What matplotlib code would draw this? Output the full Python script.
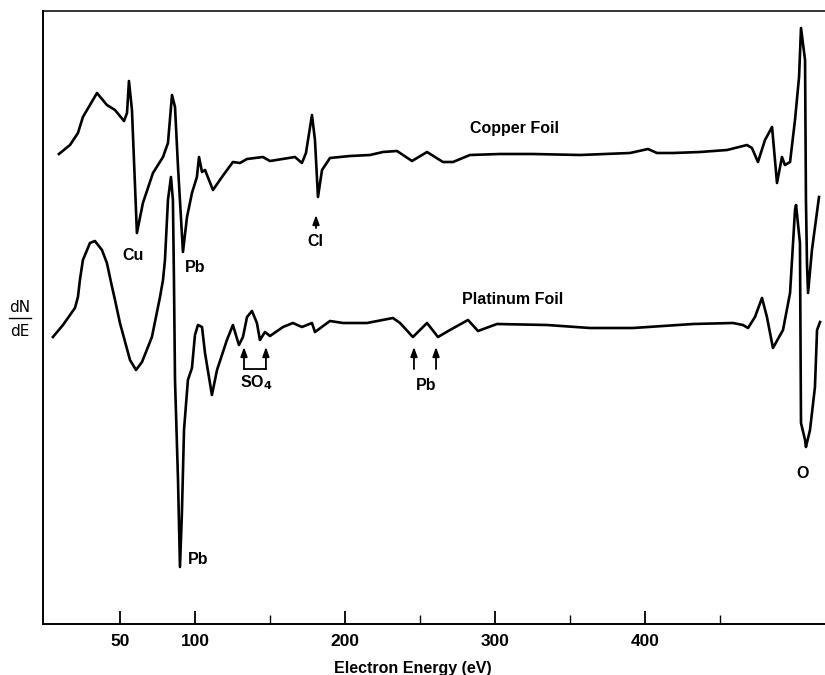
import numpy as np
import matplotlib
matplotlib.use('Agg')
import matplotlib.pyplot as plt

plt.rcParams['font.family'] = ['Liberation Sans', 'DejaVu Sans']

# 铜箔谱线 (能量 eV, dN/dE 任意单位)
cu_energy = [9.3, 16.7, 22, 25.3, 30, 34.7, 41.3, 46.7, 52.7, 54.7, 56, 58, 61.3, 65.3, 72, 78.7,
             82, 84.7, 86.7, 88.7, 92, 94.7, 98, 101.3, 102.7, 104.7, 106.7, 112, 118, 125.3,
             130, 134.7, 145.3, 150, 166.7, 171.3, 174, 178, 180, 182, 184.7, 190, 203.3,
             216.7, 225.3, 234.7, 238.7, 244.7, 254.7, 265.3, 272, 283.3, 303.3, 325.3,
             356.7, 390, 402, 408, 418.7, 436.7, 454.7, 468, 471.3, 475.3, 480, 484.7,
             488, 491.3, 493.3, 496.7, 500, 502.7, 504, 506.7,
             507.3, 508, 508.7, 511.3, 516]
cu_signal = [470, 479, 491, 507, 519, 531, 519, 514, 503, 511, 543, 514, 391, 421, 451, 467,
             481, 529, 517, 457, 372, 407, 431, 447, 467, 452, 454, 434, 447, 462,
             461, 465, 467, 463, 467, 461, 471, 509, 484, 427, 454, 466, 468,
             469, 472, 473, 469, 463, 472, 462, 462, 469, 470, 470,
             469, 471, 475, 471, 471, 472, 474, 479, 476, 462, 484, 497,
             441, 467, 459, 462, 504, 547, 596, 564,
             424, 360, 331, 374, 427]

# 铂箔谱线
pt_energy = [5.3, 12, 20, 22, 23.3, 25.3, 30, 33.3, 38, 41.3, 44, 46.7, 50, 56.7, 60.7, 64.7,
             71.3, 76.7, 78.7, 80, 82, 84, 85.3, 86, 86.7, 88.7, 90, 91.3, 92.7, 95.3, 98,
             100, 102, 104.7, 106.7, 111.3, 114.7, 121.3, 125.3, 129.3, 132, 134.7, 138,
             141.3, 143.3, 146.7, 150, 158.7, 165.3, 171.3, 178, 180, 190, 198.7, 214.7,
             232, 236.7, 245.3, 254.7, 262, 270, 282, 288.7, 301.3, 334.7, 363.3, 392,
             432, 458.7, 465.3, 468.7, 473.3, 478, 481.3, 485.3, 492, 496.7, 498.7, 500,
             500.7, 503.3, 504, 506.7, 507.3, 510, 513.3, 514.7, 516.7]
pt_signal = [287, 299, 316, 327, 344, 364, 381, 383, 374, 361, 342, 324, 301, 264, 254, 262,
             287, 327, 344, 364, 424, 447, 424, 344, 244, 144, 57, 111, 194, 244, 256,
             289, 299, 297, 271, 229, 254, 284, 299, 279, 287, 307, 313,
             301, 284, 292, 288, 297, 301, 297, 301, 292, 303, 301, 301,
             306, 301, 287, 301, 287, 294, 304, 293, 300, 299, 296, 296,
             300, 301, 299, 296, 307, 326, 307, 276, 294, 331, 381, 414,
             419, 381, 201, 184, 177, 194, 237, 294, 302]

fig = plt.figure(figsize=(8.25, 6.75), dpi=100)
ax = fig.add_axes([43 / 825, 1 - 624 / 675, 782 / 825, 613 / 675])

ax.plot(cu_energy, cu_signal, color='black', lw=1.9, solid_joinstyle='round')
ax.plot(pt_energy, pt_signal, color='black', lw=1.9, solid_joinstyle='round')

ax.set_xlim(-1.3, 520)
ax.set_ylim(0, 613)

ax.spines['right'].set_visible(False)
for s in ['left', 'bottom']:
    ax.spines[s].set_linewidth(1.4)
ax.spines['top'].set_linewidth(1.1)

ax.set_xticks([50, 100, 200, 300, 400])
ax.set_xticks([150, 250, 350, 450], minor=True)
ax.set_yticks([])
ax.tick_params(axis='x', which='major', direction='in', length=9.5, width=1.3,
               pad=7, labelsize=12.5)
ax.tick_params(axis='x', which='minor', direction='in', length=6.5, width=1.0)
for lab in ax.get_xticklabels():
    lab.set_fontweight('bold')

fs = 11.5
kw = dict(ha='center', va='center', fontsize=fs, fontweight='bold')
ax.text(313.3, 496, 'Copper Foil', **kw)
ax.text(312, 324, 'Platinum Foil', **kw)
ax.text(58.7, 369, 'Cu', **kw)
ax.text(100, 356, 'Pb', **kw)
ax.text(180, 383, 'Cl', **kw)
ax.text(140.7, 241, 'SO$_\\mathbf{4}$', **kw)
ax.text(254, 239, 'Pb', **kw)
ax.text(102, 64, 'Pb', **kw)
ax.text(505.3, 151, 'O', **kw)

# 箭头
arr = dict(arrowstyle='-|>,head_length=0.55,head_width=0.2', color='black', lw=1.3,
           shrinkA=0, shrinkB=0)
ax.annotate('', xy=(180.7, 409), xytext=(180.7, 396), arrowprops=arr)
for e in [132.7, 147.3, 246, 260.7]:
    ax.annotate('', xy=(e, 277), xytext=(e, 255), arrowprops=arr)
ax.plot([132.7, 147.3], [255, 255], color='black', lw=1.3)

# 纵轴标签 dN/dE
fig.text(20 / 825, 1 - 307 / 675, 'dN', ha='center', va='center', fontsize=11,
         family='DejaVu Sans')
fig.text(20 / 825, 1 - 331 / 675, 'dE', ha='center', va='center', fontsize=11,
         family='DejaVu Sans')
fig.add_artist(plt.Line2D([9 / 825, 31 / 825], [1 - 318 / 675, 1 - 318 / 675],
                          color='black', lw=1.0))

fig.text(413 / 825, 1 - 669 / 675, 'Electron Energy (eV)', ha='center', va='center',
         fontsize=fs, fontweight='bold')

fig.savefig('out.png', dpi=100)
